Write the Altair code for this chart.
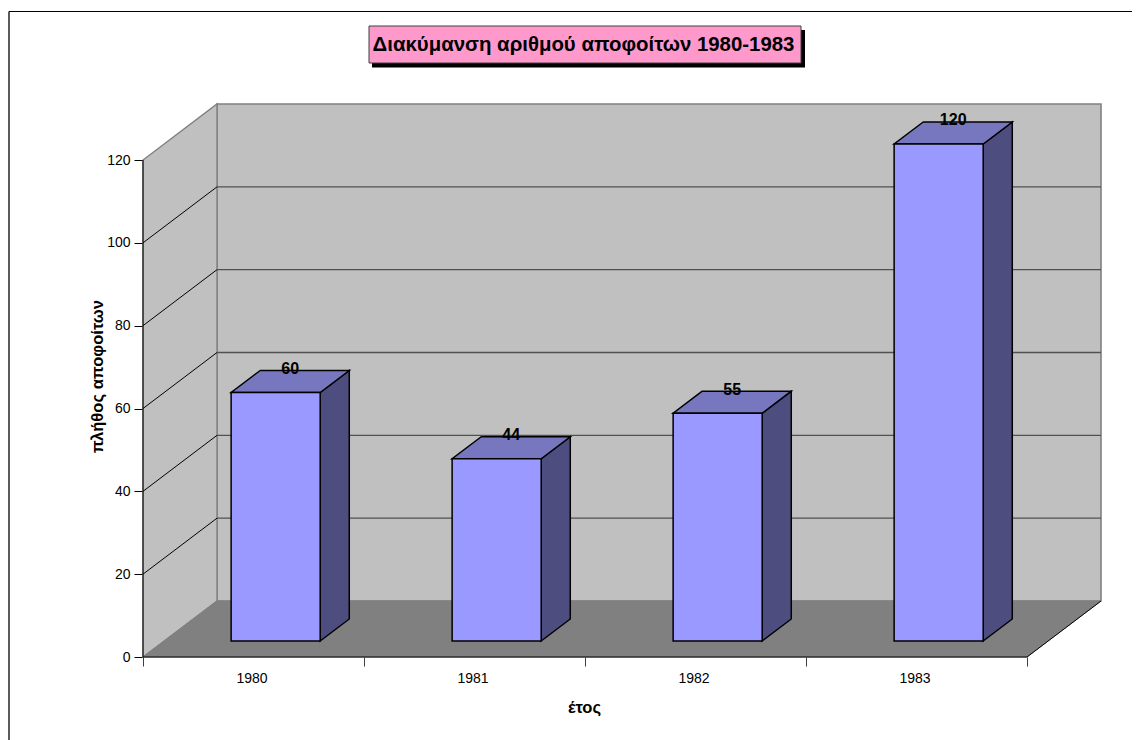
import json
import altair as alt
import pandas as pd

years = [1980, 1981, 1982, 1983]
values = [60, 44, 55, 120]
y_ticks = [0, 20, 40, 60, 80, 100, 120]
grid_values = [20, 40, 60, 80, 100]
title_text = "Διακύμανση αριθμού αποφοίτων 1980-1983"
x_title = "έτος"
y_title = "πλήθος αποφοίτων"

# The projection: a point at depth d (0 = front plane, 1 = back wall) is shifted
# by d * DX categories and d * DY value units.
DX = 74 / 221
DY = 56 / (497 / 120)
N = len(years)
Y_MAX = 120
BAR_X0, BAR_X1 = 0.303, 0.706
BAR_D0, BAR_D1 = 0.286, 0.679

WALL = "#c0c0c0"
FLOOR = "#808080"
FRONT = "#9999ff"
TOP = "#7777bf"
SIDE = "#4d4d80"

x_scale = alt.Scale(domain=[0, N + DX], range=[0, 958], nice=False, zero=False)
y_scale = alt.Scale(domain=[0, Y_MAX + DY], range=[553, 0], nice=False, zero=False)

x_axis = alt.Axis(
    values=[k / 2 for k in range(2 * N + 1)],
    labelExpr=f"datum.value % 1 === 0.5 ? {json.dumps(years)}[floor(datum.value)] : ''",
    tickOpacity={"condition": {"test": "datum.value % 1 === 0", "value": 1}, "value": 0},
    tickSize=9,
    tickColor="#404040",
    tickWidth=1,
    domain=False,
    grid=False,
    labelOverlap=False,
    labelFlush=False,
    labelPadding=5,
    labelOffset=-2,
    labelFontSize=14,
    labelFont="Liberation Sans",
    labelColor="black",
    title=x_title,
    titleFont="Liberation Sans",
    titleFontSize=16.6,
    titleFontWeight="bold",
    titleColor="black",
    titleX=441,
    titleY=50,
    titleAlign="center",
    titleBaseline="middle",
)
y_axis = alt.Axis(
    values=y_ticks,
    tickSize=9,
    tickColor="black",
    domain=False,
    grid=False,
    labelPadding=4,
    labelFontSize=14,
    labelFont="Liberation Sans",
    labelColor="black",
    title=y_title,
    titleFont="Liberation Sans",
    titleFontSize=16.6,
    titleFontWeight="bold",
    titleColor="black",
    titleX=-46,
    titleY=272,
    titleAlign="center",
    titleBaseline="middle",
    titleAngle=270,
)


def X():
    return alt.X("x:Q", scale=x_scale, axis=x_axis)


def Y():
    return alt.Y("y:Q", scale=y_scale, axis=y_axis, stack=None)


# Walls and floor
back_wall = pd.DataFrame([{"x": DX, "x2": N + DX, "y": DY, "y2": Y_MAX + DY}])
left_wall = pd.DataFrame(
    [
        {"x": 0, "y": 0, "y2": Y_MAX},
        {"x": DX, "y": DY, "y2": Y_MAX + DY},
    ]
)
floor = pd.DataFrame(
    [
        {"y": 0, "x": 0, "x2": N},
        {"y": DY, "x": DX, "x2": N + DX},
    ]
)

back_layer = (
    alt.Chart(back_wall)
    .mark_rect(fill=WALL, stroke="#808080", strokeWidth=1.6)
    .encode(x=X(), x2="x2:Q", y=Y(), y2="y2:Q")
)
left_layer = (
    alt.Chart(left_wall)
    .mark_area(orient="vertical", fill=WALL, stroke="#808080", strokeWidth=1.4)
    .encode(x=X(), y=Y(), y2="y2:Q")
)
floor_layer = (
    alt.Chart(floor)
    .mark_area(orient="horizontal", fill=FLOOR, stroke="#808080", strokeWidth=1)
    .encode(x=X(), x2="x2:Q", y=Y())
)

# Gridlines
back_grid = pd.DataFrame([{"x": DX, "x2": N + DX, "y": v + DY} for v in grid_values])
back_grid_layer = (
    alt.Chart(back_grid)
    .mark_rule(color="#505050", strokeWidth=1.4)
    .encode(x=X(), x2="x2:Q", y=Y())
)
left_grid = pd.DataFrame(
    [{"g": v, "x": d * DX, "y": v + d * DY} for v in grid_values for d in (0, 1)]
)
left_grid_layer = (
    alt.Chart(left_grid)
    .mark_line(color="black", strokeWidth=1)
    .encode(x=X(), y=Y(), detail="g:N")
)

# Floor edges and axis lines
front_edge = pd.DataFrame([{"x": 0, "x2": N, "y": 0}])
front_edge_layer = (
    alt.Chart(front_edge)
    .mark_rule(color="black", strokeWidth=1.2)
    .encode(x=X(), x2="x2:Q", y=Y())
)
right_edge = pd.DataFrame([{"x": N, "y": 0}, {"x": N + DX, "y": DY}])
right_edge_layer = (
    alt.Chart(right_edge).mark_line(color="black", strokeWidth=1).encode(x=X(), y=Y())
)
y_line = pd.DataFrame([{"x": 0, "y": 0, "y2": Y_MAX}])
y_line_layer = (
    alt.Chart(y_line)
    .mark_rule(color="black", strokeWidth=1)
    .encode(x=X(), y=Y(), y2="y2:Q")
)

# Bars
front_rows, side_rows, top_rows, label_rows = [], [], [], []
for i, (yr, v) in enumerate(zip(years, values)):
    x0 = i + BAR_X0
    x1 = i + BAR_X1
    front_rows.append(
        {
            "x": x0 + BAR_D0 * DX,
            "x2": x1 + BAR_D0 * DX,
            "y": BAR_D0 * DY,
            "y2": v + BAR_D0 * DY,
        }
    )
    for d in (BAR_D0, BAR_D1):
        side_rows.append({"yr": yr, "x": x1 + d * DX, "y": d * DY, "y2": v + d * DY})
        top_rows.append({"yr": yr, "y": v + d * DY, "x": x0 + d * DX, "x2": x1 + d * DX})
    label_rows.append(
        {
            "x": (x0 + x1) / 2 + (BAR_D0 + BAR_D1) / 2 * DX,
            "y": v + BAR_D1 * DY,
            "label": str(v),
        }
    )

outline = dict(stroke="black", strokeWidth=1.5, strokeJoin="miter")

side_layer = (
    alt.Chart(pd.DataFrame(side_rows))
    .mark_area(orient="vertical", fill=SIDE, **outline)
    .encode(x=X(), y=Y(), y2="y2:Q", detail="yr:N")
)
top_layer = (
    alt.Chart(pd.DataFrame(top_rows))
    .mark_area(orient="horizontal", fill=TOP, **outline)
    .encode(x=X(), x2="x2:Q", y=Y(), detail="yr:N")
)
front_layer = (
    alt.Chart(pd.DataFrame(front_rows))
    .mark_rect(fill=FRONT, **outline)
    .encode(x=X(), x2="x2:Q", y=Y(), y2="y2:Q")
)
label_layer = (
    alt.Chart(pd.DataFrame(label_rows))
    .mark_text(
        font="Liberation Sans",
        fontSize=16,
        fontWeight="bold",
        color="black",
        baseline="middle",
        align="center",
        dy=-1.5,
    )
    .encode(x=X(), y=Y(), text="label:N")
)

# Frame and title box, placed in pixels relative to the plot area
OX, OY = 143, 104
one = pd.DataFrame({"a": [0]})
frame_left = (
    alt.Chart(one)
    .mark_rule(color="#333333", strokeWidth=1.6)
    .encode(x=alt.value(9 - OX), y=alt.value(11.5 - OY), y2=alt.value(740 - OY))
)
frame_top = (
    alt.Chart(one)
    .mark_rule(color="black", strokeWidth=1.2)
    .encode(x=alt.value(9 - OX), x2=alt.value(1140 - OX), y=alt.value(11.5 - OY))
)
shadow = (
    alt.Chart(one)
    .mark_rect(color="black")
    .encode(
        x=alt.value(372 - OX),
        x2=alt.value(805 - OX),
        y=alt.value(30 - OY),
        y2=alt.value(67.5 - OY),
    )
)
title_box = (
    alt.Chart(one)
    .mark_rect(fill="#ff99cc", stroke="#404040", strokeWidth=1)
    .encode(
        x=alt.value(369 - OX),
        x2=alt.value(801 - OX),
        y=alt.value(26 - OY),
        y2=alt.value(63 - OY),
    )
)
title_mark = (
    alt.Chart(one)
    .mark_text(
        text=title_text,
        font="Liberation Sans",
        fontSize=20.4,
        fontWeight="bold",
        color="black",
        align="center",
        baseline="middle",
    )
    .encode(x=alt.value(583.5 - OX), y=alt.value(45 - OY))
)

chart = (
    alt.layer(
        back_layer,
        left_layer,
        floor_layer,
        back_grid_layer,
        left_grid_layer,
        front_edge_layer,
        right_edge_layer,
        y_line_layer,
        side_layer,
        top_layer,
        front_layer,
        label_layer,
        frame_left,
        frame_top,
        shadow,
        title_box,
        title_mark,
    )
    .properties(
        width=958,
        height=553,
        autosize=alt.AutoSizeParams(type="none"),
        padding={"left": 135, "top": 96, "right": 31, "bottom": 83},
        background="white",
    )
    .configure_view(strokeWidth=0)
)

chart.save("out.html", embed_options={"renderer": "svg", "actions": False})
